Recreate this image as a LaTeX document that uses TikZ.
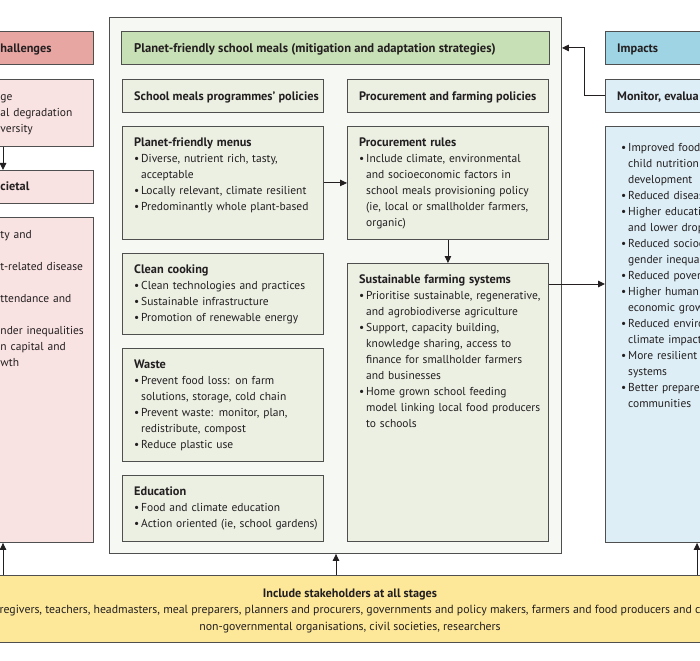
\documentclass[tikz,border=0pt]{standalone}
\usepackage{fontspec}
\setmainfont{PT Sans}
\usetikzlibrary{arrows.meta,calc}
\definecolor{bordc}{HTML}{4F4F4F}
\definecolor{txtc}{HTML}{231F20}
\definecolor{contfill}{HTML}{F6F8F3}
\definecolor{subfill}{HTML}{EBF0E3}
\definecolor{greenhd}{HTML}{C8E0B5}
\definecolor{pinkhd}{HTML}{E8A6A3}
\definecolor{pinklt}{HTML}{F9E2E2}
\definecolor{bluehd}{HTML}{9ED4E4}
\definecolor{bluelt}{HTML}{DDEEF6}
\definecolor{yellowbx}{HTML}{FDE89A}
\newcommand{\fsz}{\fontsize{11.5}{16}\selectfont}
\newcommand{\bfsz}{\fontsize{12.3}{16}\selectfont\bfseries}
\newcommand{\bitm}[1]{\par\noindent\makebox[7pt][l]{\textbullet}{\def\\{\newline\hspace*{7pt}}#1}}
\begin{document}
\begin{tikzpicture}[x=1pt,y=-1pt,
  box/.style={draw=bordc, line width=0.9pt, inner sep=0pt, anchor=north west},
  txt/.style={inner sep=0pt, anchor=north west, align=left, text width=#1, font=\fsz, text=txtc},
  txt/.default=195pt,
  hd/.style={inner sep=0pt, anchor=west, font=\bfsz, text=txtc, text height=8.5pt, text depth=0pt},
  arr/.style={draw=txtc, line width=0.9pt, -{Triangle[length=7pt,width=6.5pt]}}]
\useasboundingbox (0,0) rectangle (700,660);
\clip (0,0) rectangle (700,660);
\fill[white] (0,0) rectangle (700,660);

% left column (cut off)
\node[box, fill=pinkhd, minimum width=113pt, minimum height=33pt] (lh) at (-20,31) {};
\node[box, fill=pinklt, minimum width=113pt, minimum height=67pt] (lb1) at (-20,79) {};
\node[box, fill=pinklt, minimum width=113pt, minimum height=33pt] (lb2) at (-20,170) {};
\node[box, fill=pinklt, minimum width=113pt, minimum height=325pt] (lb3) at (-20,217) {};
\node[hd] (lht) at (0.3,48) {hallenges};
\node[txt=100pt] (lb1t) at (0.3,89.5) {\strut ge\\al degradation\\versity};
\node[hd] (lb2t) at (0.3,186.5) {cietal};
\node[txt=110pt] (lb3t) at (0.3,227.5) {\strut ty and\\\mbox{}\\t-related disease\\\mbox{}\\ttendance and\\\mbox{}\\nder inequalities\\n capital and\\wth};

% central container
\node[box, fill=contfill, minimum width=452pt, minimum height=536pt] (cont) at (109,17) {};
\node[box, fill=greenhd, minimum width=428pt, minimum height=33pt] (green) at (121,31) {};
\node[hd, font=\fontsize{12.6}{16}\selectfont\bfseries] (greent) at ([xshift=13pt]green.west) {Planet-friendly school meals (mitigation and adaptation strategies)};

\node[box, fill=subfill, minimum width=201pt, minimum height=33pt] (sub1) at (122,79) {};
\node[hd] (sub1t) at ([xshift=12pt]sub1.west) {School meals programmes’ policies};
\node[box, fill=subfill, minimum width=201pt, minimum height=33pt] (sub2) at (347,79) {};
\node[hd] (sub2t) at ([xshift=12pt]sub2.west) {Procurement and farming policies};

\node[box, fill=subfill, minimum width=201pt, minimum height=113pt] (menus) at (122,126) {};
\node[txt] (menust) at ([shift={(12,9.5)}]menus.north west) {\strut{\bfsz Planet-friendly menus}
\bitm{Diverse, nutrient rich, tasty,\\acceptable}
\bitm{Locally relevant, climate resilient}
\bitm{Predominantly whole plant-based}};

\node[box, fill=subfill, minimum width=201pt, minimum height=81pt] (cook) at (122,253) {};
\node[txt] (cookt) at ([shift={(12,9.5)}]cook.north west) {\strut{\bfsz Clean cooking}
\bitm{Clean technologies and practices}
\bitm{Sustainable infrastructure}
\bitm{Promotion of renewable energy}};

\node[box, fill=subfill, minimum width=201pt, minimum height=113pt] (waste) at (122,348) {};
\node[txt] (wastet) at ([shift={(12,9.5)}]waste.north west) {\strut{\bfsz Waste}
\bitm{Prevent food loss: on farm\\solutions, storage, cold chain}
\bitm{Prevent waste: monitor, plan,\\redistribute, compost}
\bitm{Reduce plastic use}};

\node[box, fill=subfill, minimum width=201pt, minimum height=66pt] (edu) at (122,475) {};
\node[txt] (edut) at ([shift={(12,9.5)}]edu.north west) {\strut{\bfsz Education}
\bitm{Food and climate education}
\bitm{Action oriented (ie, school gardens)}};

\node[box, fill=subfill, minimum width=201pt, minimum height=113pt] (procr) at (347,126) {};
\node[txt] (procrt) at ([shift={(12,9.5)}]procr.north west) {\strut{\bfsz Procurement rules}
\bitm{Include climate, environmental\\and socioeconomic factors in\\school meals provisioning policy\\(ie, local or smallholder farmers,\\organic)}};

\node[box, fill=subfill, minimum width=201pt, minimum height=278pt] (farm) at (347,263) {};
\node[txt] (farmt) at ([shift={(12,9.5)}]farm.north west) {\strut{\bfsz Sustainable farming systems}
\bitm{Prioritise sustainable, regenerative,\\and agrobiodiverse agriculture}
\bitm{Support, capacity building,\\knowledge sharing, access to\\finance for smallholder farmers\\and businesses}
\bitm{Home grown school feeding\\model linking local food producers\\to schools}};

% right column (cut off)
\node[box, fill=bluehd, minimum width=120pt, minimum height=33pt] (imph) at (605,31) {};
\node[hd] (impht) at ([xshift=12pt]imph.west) {Impacts};
\node[box, fill=bluelt, minimum width=120pt, minimum height=33pt] (mon) at (605,79) {};
\node[hd] (mont) at ([xshift=12pt]mon.west) {Monitor, evalua};
\node[box, fill=bluelt, minimum width=120pt, minimum height=416pt] (impbox) at (605,126) {};
\node[txt=110pt] (impt) at ([shift={(16,9.5)}]impbox.north west) {\bitm{\strut Improved food\\child nutrition\\development}
\bitm{Reduced diseas}
\bitm{Higher educati\\and lower drop}
\bitm{Reduced socioe\\gender inequal}
\bitm{Reduced pover}
\bitm{Higher human\\economic grow}
\bitm{Reduced enviro\\climate impact}
\bitm{More resilient l\\systems}
\bitm{Better prepared\\communities}};

% stakeholders
\node[box, fill=yellowbx, minimum width=740pt, minimum height=67pt] (stake) at (-20,575) {};
\node[inner sep=0pt, anchor=north, align=center, font=\fontsize{11.8}{16.5}\selectfont, text=txtc] (staket) at (350,585.5) {\strut{\fontsize{12.2}{16.5}\selectfont\bfseries Include stakeholders at all stages}\\regivers, teachers, headmasters, meal preparers, planners and procurers, governments and policy makers, farmers and food producers and c\\non-governmental organisations, civil societies, researchers};

% connectors
\draw[arr] (lb1.south -| 3,0) -- (lb2.north -| 3,0);
\draw[arr] (stake.north -| 3,0) -- (lb3.south -| 3,0);
\draw[arr] (stake.north -| 336,0) -- (cont.south -| 336,0);
\draw[arr] (stake.north -| 697,0) -- (impbox.south -| 697,0);
\draw[arr] (menus.east) -- (procr.west);
\draw[arr] (procr.south) -- (farm.north);
\draw[arr] (farm.east |- 0,284) -- (impbox.west |- 0,284);
\draw[arr] (mon.west) -- ++(-21,0) |- (cont.east |- green.east);
\end{tikzpicture}
\end{document}
